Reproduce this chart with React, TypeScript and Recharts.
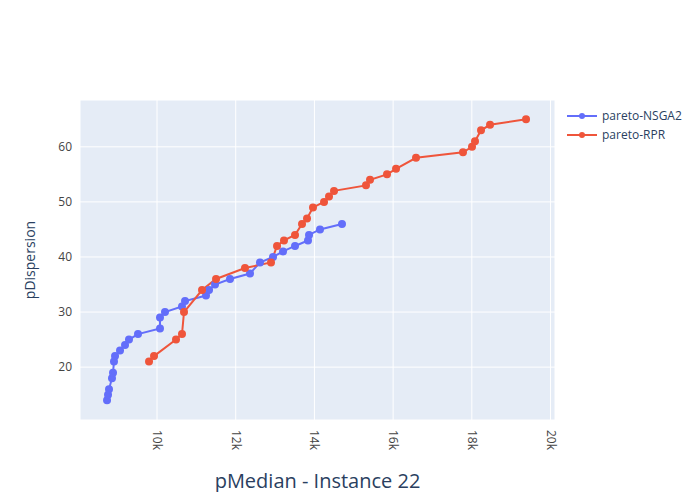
import React from 'react';
import { LineChart, Line, XAxis, YAxis, CartesianGrid, Label } from 'recharts';

const nsgaX = [8730, 8755, 8780, 8856, 8882, 8907, 8933, 9060, 9187, 9288, 9517, 10076, 10076, 10203, 10635, 10712, 11245, 11322, 11474, 11855, 12363, 12617, 12948, 13202, 13507, 13837, 13863, 14142, 14701];
const nsgaY = [14, 15, 16, 18, 19, 21, 22, 23, 24, 25, 26, 27, 29, 30, 31, 32, 33, 34, 35, 36, 37, 39, 40, 41, 42, 43, 44, 45, 46];
const rprX = [9797, 9924, 10483, 10635, 10686, 11144, 11500, 12236, 12897, 13050, 13227, 13507, 13685, 13812, 13964, 14244, 14371, 14498, 15311, 15413, 15845, 16074, 16582, 17776, 18005, 18081, 18234, 18463, 19378];
const rprY = [21, 22, 25, 26, 30, 34, 36, 38, 39, 42, 43, 44, 46, 47, 49, 50, 51, 52, 53, 54, 55, 56, 58, 59, 60, 61, 63, 64, 65];
const xTicks = [10000, 12000, 14000, 16000, 18000, 20000];
const yTicks = [20, 30, 40, 50, 60];

const nsga = nsgaX.map((x, i) => ({ x, y: nsgaY[i] }));
const rpr = rprX.map((x, i) => ({ x, y: rprY[i] }));

const font = '"Open Sans", sans-serif';
const ink = '#2a3f5f';

const XTick = (props: any) => {
  const { x, y, payload } = props;
  return (
    <text x={x} y={y + 2} transform={`rotate(90 ${x} ${y + 2})`} fill="#444" fontSize={12} fontFamily={font} dy={4}>
      {payload.value / 1000}k
    </text>
  );
};

const LegendBox = () => (
  <div style={{ position: 'absolute', left: 562, top: 106, fontFamily: font, fontSize: 12, color: ink }}>
    {[
      ['pareto-NSGA2', '#636efa'],
      ['pareto-RPR', '#ef553b'],
    ].map(([name, c]) => (
      <div key={name} style={{ display: 'flex', alignItems: 'center', height: 19 }}>
        <svg width={40} height={12}>
          <line x1={5} x2={35} y1={6} y2={6} stroke={c} strokeWidth={2} />
          <circle cx={20} cy={6} r={3} fill={c} />
        </svg>
        <span>{name}</span>
      </div>
    ))}
  </div>
);

export default function App() {
  return (
    <div style={{ margin: -8, width: 700, height: 500, background: '#fff', position: 'relative' }}>
      <LineChart width={700} height={500} margin={{ top: 100, right: 145, bottom: 40, left: 40 }}>
        <CartesianGrid stroke="#fff" strokeWidth={1} fill="#e5ecf6" fillOpacity={1} />
        <XAxis dataKey="x" type="number" domain={[8043, 20114]} ticks={xTicks} tick={<XTick />}
          axisLine={false} tickLine={false} height={40} allowDataOverflow>
          <Label value="pMedian - Instance 22" position="bottom" offset={0} dy={14} fill={ink} fontSize={20} fontFamily={font} />
        </XAxis>
        <YAxis dataKey="y" type="number" domain={[10.4, 68.5]} ticks={yTicks} axisLine={false} tickLine={false}
          width={40} tick={{ fill: '#444', fontSize: 12, fontFamily: font }} allowDataOverflow>
          <Label value="pDispersion" angle={-90} position="insideLeft" dx={-15} fill={ink} fontSize={14} fontFamily={font} style={{ textAnchor: 'middle' }} />
        </YAxis>
        <Line data={nsga} dataKey="y" name="pareto-NSGA2" stroke="#636efa" strokeWidth={2}
          dot={{ r: 3, fill: '#636efa', stroke: '#636efa' }} isAnimationActive={false} />
        <Line data={rpr} dataKey="y" name="pareto-RPR" stroke="#ef553b" strokeWidth={2}
          dot={{ r: 3, fill: '#ef553b', stroke: '#ef553b' }} isAnimationActive={false} />
      </LineChart>
      <LegendBox />
    </div>
  );
}
